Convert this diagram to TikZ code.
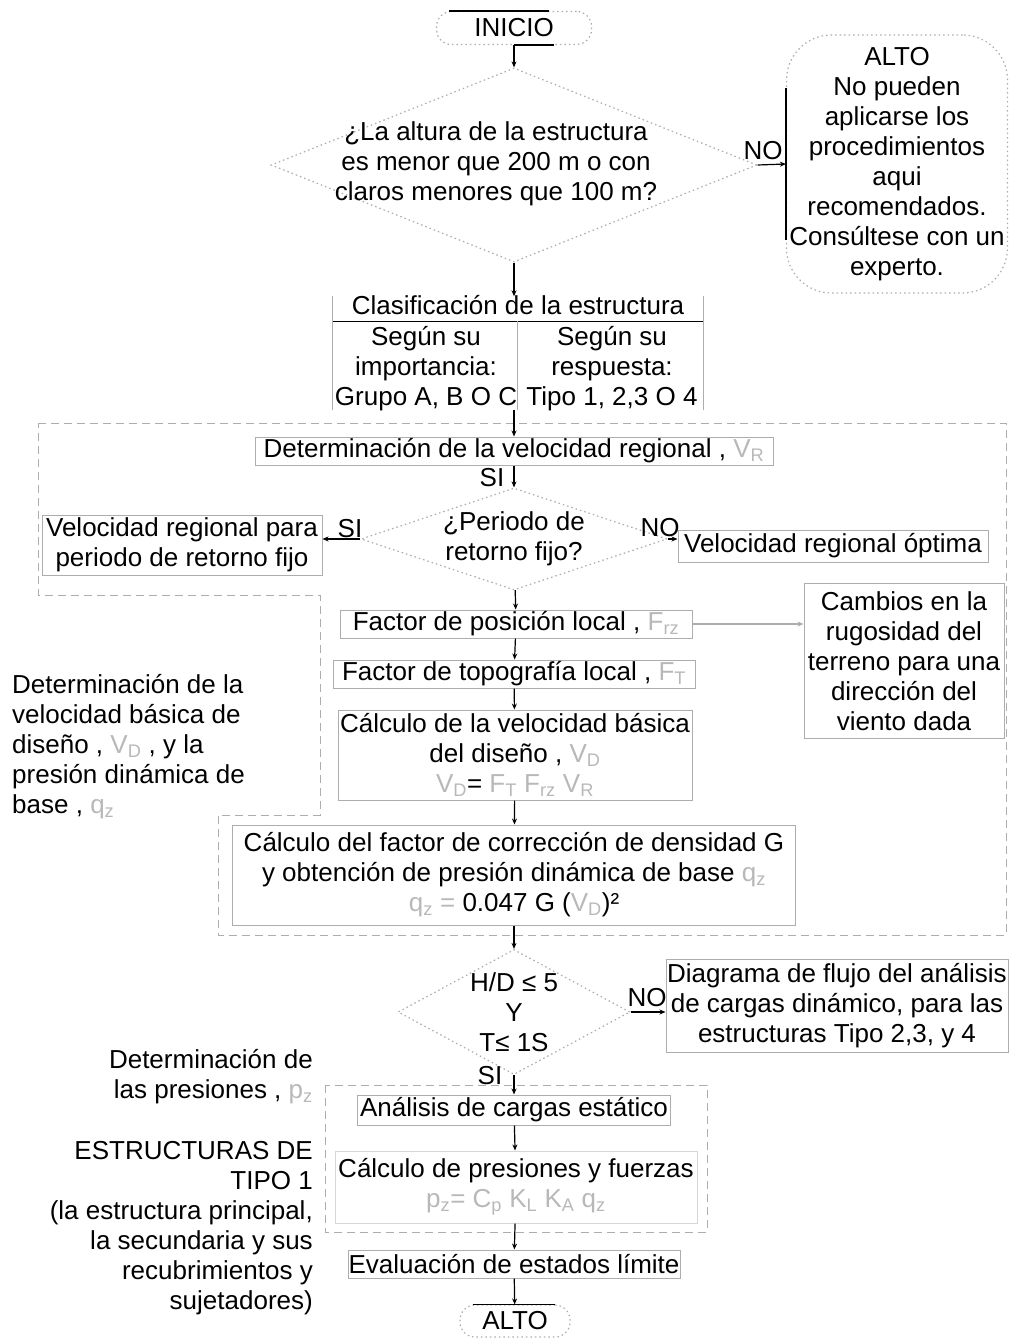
\documentclass[tikz,border=0pt]{standalone}
\usepackage{fontspec}
\setmainfont{Liberation Sans}
\usetikzlibrary{arrows.meta,shapes.geometric,calc}
\definecolor{faint}{gray}{0.72}
\definecolor{edge}{gray}{0.68}
\newcommand{\fa}[1]{\textcolor{faint}{#1}}

\begin{document}
\begin{tikzpicture}[x=1pt,y=-1pt,
  font=\fontsize{26}{30}\selectfont,
  box/.style={draw=edge, line width=1pt, align=center, inner sep=0pt, minimum height=28pt},
  term/.style={draw=edge, line width=1.2pt, dash pattern=on 1.5pt off 3pt, rounded corners=15pt, inner sep=0pt, align=center},
  dec/.style={diamond, draw=edge, line width=1.2pt, dash pattern=on 1.5pt off 3pt, inner sep=0pt},
  lbl/.style={inner sep=0pt},
  arr/.style={-{Stealth[length=6pt,width=5pt]}, line width=1.2pt},
  group/.style={draw=edge, line width=1pt, dash pattern=on 8pt off 5pt}]
  \useasboundingbox (0,0) rectangle (1011,1338);

  \draw[group] (38,423) -- (1006,423) -- (1006,935) -- (218,935) -- (218,815) -- (320,815) -- (320,595) -- (38,595) -- cycle;
  \draw[group] (325,1085) rectangle (707,1232);

  \node[term, minimum width=155pt, minimum height=33pt] (inicio) at (514,28) {INICIO};
  \draw[line width=1.3pt] ($(inicio.north)+(-65,0)$) -- ($(inicio.north)+(35,0)$);
  \draw[line width=1.3pt] (inicio.south) -- ($(inicio.south)+(40,0)$);

  \node[dec, minimum width=486pt, minimum height=194pt] (q1) at (514,165) {};
  \node[lbl, align=center] (q1t) at (496,164) {¿La altura de la estructura\\es menor que 200 m o con\\claros menores que 100 m?};
  \node[lbl] (no1) at (763,151) {NO};

  \node[term, rounded corners=45pt, minimum width=221pt, minimum height=258pt] (alto1) at (897,164)
    {ALTO\\No pueden\\aplicarse los\\procedimientos\\aqui\\recomendados.\\Consúltese con un\\experto.};
  \draw[line width=1.3pt] ($(alto1.west)+(0,-76)$) -- ($(alto1.west)+(0,76)$);

  \node[minimum width=370pt, minimum height=113pt, inner sep=0pt] (tab) at (518,353) {};
  \node[lbl] (clas) at (518,305) {Clasificación de la estructura};
  \node[lbl, align=center] (imp) at (426,369) {Según su\\importancia:\\Grupo A, B O C};
  \node[lbl, align=center] (resp) at (612,369) {Según su\\respuesta:\\Tipo 1, 2,3 O 4};
  \draw[edge, line width=1.2pt] (tab.north west) -- (tab.south west);
  \draw[edge, line width=1.2pt] (tab.north east) -- (tab.south east);
  \draw[line width=1pt] (tab.west |- 0,321) -- (tab.east |- 0,321);
  \draw[edge, line width=1.2pt] (imp.east |- 0,321) -- (imp.east |- tab.south);

  \node[box, minimum width=518pt] (vreg) at (514,451) {Determinación de la velocidad regional , \fa{V\textsubscript{R}}};

  \node[dec, minimum width=306pt, minimum height=102pt] (q2) at (514,539) {};
  \node[lbl, align=center] (q2t) at (514,539) {¿Periodo de\\retorno fijo?};
  \node[lbl] (si1) at (492,478) {SI};
  \node[lbl] (si2) at (350,529) {SI};
  \node[lbl] (no2) at (660,528) {NO};
  \node[box, minimum width=280pt, minimum height=60pt] (vfijo) at (182,545) {Velocidad regional para\\periodo de retorno fijo};
  \node[box, minimum width=310pt, minimum height=32pt] (vopt) at (833,546) {Velocidad regional óptima};

  \node[box, minimum width=352pt] (frz) at (516,624) {Factor de posición local , \fa{F\textsubscript{rz}}};
  \node[box, minimum width=200pt, minimum height=155pt] (camb) at (904,661) {Cambios en la\\rugosidad del\\terreno para una\\dirección del\\viento dada};
  \node[box, minimum width=362pt] (ft) at (514,674) {Factor de topografía local , \fa{F\textsubscript{T}}};
  \node[box, minimum width=354pt, minimum height=90pt] (vd) at (515,755)
    {Cálculo de la velocidad básica\\del diseño , \fa{V\textsubscript{D}}\\\fa{V\textsubscript{D}}= \fa{F\textsubscript{T} F\textsubscript{rz} V\textsubscript{R}}};
  \node[lbl, align=left, anchor=west] (lab1) at (12,747)
    {Determinación de la\\velocidad básica de\\diseño , \fa{V\textsubscript{D}} , y la\\presión dinámica de\\base , \fa{q\textsubscript{z}}};

  \node[box, minimum width=563pt, minimum height=100pt] (dens) at (514,875)
    {Cálculo del factor de corrección de densidad G\\y obtención de presión dinámica de base \fa{q\textsubscript{z}}\\\fa{q\textsubscript{z} =} 0.047 G (\fa{V\textsubscript{D}})²};

  \node[dec, minimum width=232pt, minimum height=125pt] (q3) at (514,1012) {};
  \node[lbl, align=center] (q3t) at (514,1012) {H/D ≤ 5\\Y\\T≤ 1S};
  \node[lbl] (no3) at (647,998) {NO};
  \node[lbl] (si3) at (490,1076) {SI};
  \node[box, minimum width=342pt, minimum height=93pt] (diag) at (837,1006)
    {Diagrama de flujo del análisis\\de cargas dinámico, para las\\estructuras Tipo 2,3, y 4};

  \node[box, minimum width=313pt, minimum height=30pt] (est) at (514,1110) {Análisis de cargas estático};
  \node[box, draw=edge!50, minimum width=362pt, minimum height=72pt] (pres) at (516,1187)
    {Cálculo de presiones y fuerzas\\\fa{p\textsubscript{z}= C\textsubscript{p} K\textsubscript{L} K\textsubscript{A} q\textsubscript{z}}};
  \node[box, minimum width=332pt] (eval) at (514,1264) {Evaluación de estados límite};
  \node[term, minimum width=110pt, minimum height=32pt] (alto2) at (515,1321) {ALTO};
  \draw[line width=1.3pt] ($(alto2.north)+(-42,0)$) -- ($(alto2.north)+(40,0)$);

  \node[lbl, align=right, anchor=east] (lab2) at (313,1077) {Determinación de\\las presiones , \fa{p\textsubscript{z}}};
  \node[lbl, align=right, anchor=east] (lab3) at (313,1228)
    {ESTRUCTURAS DE\\TIPO 1\\(la estructura principal,\\la secundaria y sus\\recubrimientos y\\sujetadores)};

  \draw[arr] (inicio) -- (q1);
  \draw[arr] (q1.east) -- (alto1.west);
  \draw[arr] (q1.south) -- (q1.south |- tab.north);
  \draw[arr] (vreg.north |- tab.south) -- (vreg.north);
  \draw[arr] (vreg) -- (q2);
  \draw[arr] (q2.west) -- (q2.west -| vfijo.east);
  \draw[arr] (q2.east) -- (q2.east -| vopt.west);
  \draw[arr] (q2) -- (frz);
  \draw[arr, edge] (frz.east) -- (frz.east -| camb.west);
  \draw[arr] (frz) -- (ft);
  \draw[arr] (ft) -- (vd);
  \draw[arr] (vd) -- (dens);
  \draw[arr] (dens.south) -- (q3.north);
  \draw[arr] (q3.east) -- (q3.east -| diag.west);
  \draw[arr] (q3) -- (est);
  \draw[arr] (est) -- (pres);
  \draw[arr] (pres) -- (eval);
  \draw[arr] (eval) -- (alto2);
\end{tikzpicture}
\end{document}
